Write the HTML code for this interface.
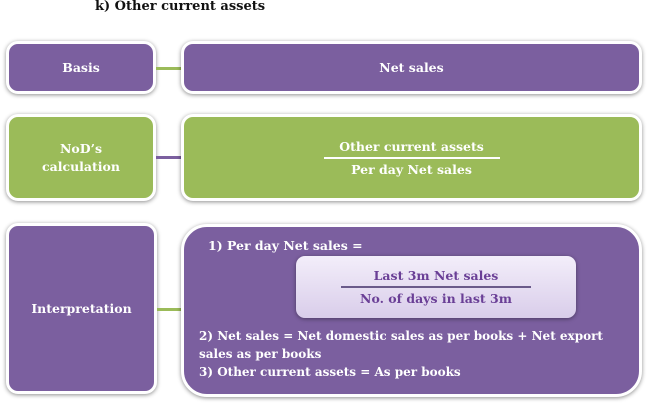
<!DOCTYPE html>
<html><head><meta charset="utf-8"><style>
body{margin:0;width:650px;height:406px;background:#fff;position:relative;overflow:hidden;font-family:"DejaVu Serif","Liberation Serif",serif;font-weight:bold;}
.b{position:absolute;box-sizing:border-box;border:3px solid #fff;border-radius:12px;box-shadow:0 1px 4px rgba(0,0,0,.45);color:#fff;display:flex;align-items:center;justify-content:center;text-align:center;font-size:12.5px;}
.p{background:#7b5f9f}.g{background:#9bbb59}
.c{position:absolute;height:3px}
.t{position:absolute;color:#fff;font-size:12.5px;line-height:18px}
</style></head><body>
<div style="position:absolute;left:95px;top:-1px;font-size:13px;color:#111">k) Other current assets</div>

<div class="b p" style="left:6px;top:41px;width:150px;height:53px">Basis</div>
<div class="c" style="left:156px;top:67px;width:27px;background:#9bbb59"></div>
<div class="b p" style="left:181px;top:41px;width:461px;height:53px">Net sales</div>

<div class="b g" style="left:6px;top:114px;width:150px;height:87px;line-height:18px">NoD’s<br>calculation</div>
<div class="c" style="left:156px;top:156px;width:27px;background:#7b5f9f"></div>
<div class="b g" style="left:181px;top:114px;width:461px;height:87px;flex-direction:column">
<div style="padding:0 8px 3px;border-bottom:2px solid #fff;width:160px">Other current assets</div>
<div style="padding-top:3px">Per day Net sales</div>
</div>

<div class="b p" style="left:6px;top:223px;width:151px;height:171px">Interpretation</div>
<div class="c" style="left:157px;top:308px;width:26px;background:#9bbb59"></div>
<div class="b p" style="left:181px;top:224px;width:461px;height:173px;border-radius:26px"></div>
<div class="t" style="left:208px;top:237px">1) Per day Net sales =</div>
<div style="position:absolute;left:296px;top:256px;width:280px;height:62px;border-radius:9px;background:linear-gradient(#f3eefa,#d9cdea);box-shadow:0 1px 4px rgba(0,0,0,.4);color:#6a3f96;font-size:12.5px;text-align:center">
<div style="margin:12px auto 0;width:190px;padding-bottom:3px;border-bottom:2px solid #6a5a8a">Last 3m Net sales</div>
<div style="padding-top:3px">No. of days in last 3m</div>
</div>
<div class="t" style="left:199px;top:327px;width:432px;font-size:12px">2) Net sales = Net domestic sales as per books + Net export sales as per books</div>
<div class="t" style="left:199px;top:363px;font-size:12px">3) Other current assets = As per books</div>
</body></html>
